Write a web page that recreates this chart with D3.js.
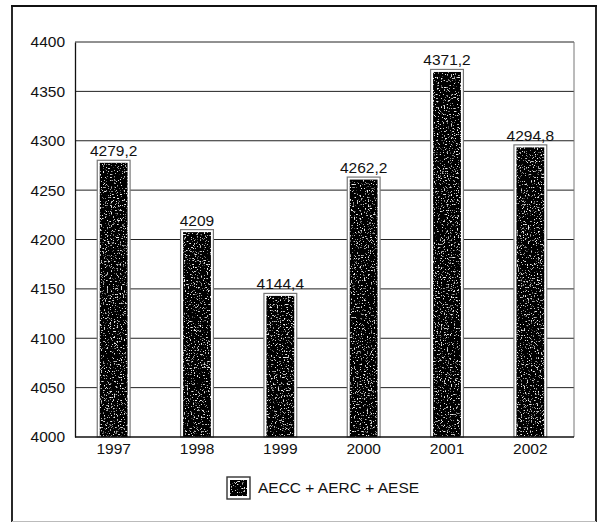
<!DOCTYPE html>
<html>
<head>
<meta charset="utf-8">
<script src="https://cdn.jsdelivr.net/npm/d3@7"></script>
<style>
  html, body { margin: 0; padding: 0; background: #fff; }
  svg { display: block; font-family: "Liberation Sans", Arial, sans-serif; }
</style>
</head>
<body>
<svg id="chart" width="600" height="523"></svg>
<script>
// Yearly totals
const years = ["1997", "1998", "1999", "2000", "2001", "2002"];
const totals = [4279.2, 4209, 4144.4, 4262.2, 4371.2, 4294.8];
const valueLabels = ["4279,2", "4209", "4144,4", "4262,2", "4371,2", "4294,8"];
const yTicks = [4000, 4050, 4100, 4150, 4200, 4250, 4300, 4350, 4400];
const seriesName = "AECC + AERC + AESE";

const FS = 15.5;
const svg = d3.select("#chart");

// grainy dark fill for bars: black base with sparse light speckles
const defs = svg.append("defs");
const grain = defs.append("filter").attr("id", "grain")
  .attr("x", 0).attr("y", 0).attr("width", 1).attr("height", 1);
grain.append("feTurbulence").attr("type", "fractalNoise")
  .attr("baseFrequency", 0.7).attr("numOctaves", 3).attr("seed", 11).attr("result", "noise");
grain.append("feColorMatrix").attr("in", "noise").attr("type", "matrix")
  .attr("values", "0 0 0 0 0.85  0 0 0 0 0.85  0 0 0 0 0.85  7 0 0 0 -4.3").attr("result", "speck");
grain.append("feComposite").attr("in", "speck").attr("in2", "SourceGraphic").attr("operator", "in").attr("result", "specks");
grain.append("feMerge").call(m => {
  m.append("feMergeNode").attr("in", "SourceGraphic");
  m.append("feMergeNode").attr("in", "specks");
});

// outer frame
const frame = svg.append("g");
frame.append("line").attr("x1", 12).attr("x2", 12).attr("y1", 5.5).attr("y2", 522).attr("stroke", "#111").attr("stroke-width", 1.8);
frame.append("line").attr("x1", 11).attr("x2", 597).attr("y1", 6).attr("y2", 6).attr("stroke", "#111").attr("stroke-width", 1.8);
frame.append("line").attr("x1", 596).attr("x2", 596).attr("y1", 5.5).attr("y2", 522).attr("stroke", "#111").attr("stroke-width", 1.8);
frame.append("line").attr("x1", 12).attr("x2", 596).attr("y1", 521.5).attr("y2", 521.5).attr("stroke", "#bbb").attr("stroke-width", 1);

const plot = { left: 75, right: 574, top: 42, bottom: 437 };

const y = d3.scaleLinear().domain([4000, 4400]).range([plot.bottom, plot.top]);
const x = d3.scaleBand().domain(years).range([72, 572]).paddingInner(0.63).paddingOuter(0.315);

// gridlines
svg.append("g").selectAll("line").data(yTicks.slice(1)).join("line")
  .attr("x1", plot.left).attr("x2", plot.right)
  .attr("y1", d => y(d)).attr("y2", d => y(d))
  .attr("stroke", "#222").attr("stroke-width", 1);

// plot border: right side lighter
svg.append("line").attr("x1", plot.right).attr("x2", plot.right)
  .attr("y1", plot.top).attr("y2", plot.bottom).attr("stroke", "#777").attr("stroke-width", 1);

// y axis
const yAxis = svg.append("g").attr("transform", `translate(${plot.left},0)`)
  .call(d3.axisLeft(y).tickValues(yTicks).tickSize(0).tickPadding(10).tickFormat(d3.format("d")));
yAxis.select(".domain").attr("stroke", "#111").attr("stroke-width", 1.3);
yAxis.selectAll("text").attr("font-size", FS).attr("fill", "#111");

// bars
const bars = svg.append("g");
bars.selectAll("rect.outline").data(totals).join("rect").attr("class", "outline")
  .attr("x", (d, i) => x(years[i]) - 1)
  .attr("y", d => y(d) - 1)
  .attr("width", x.bandwidth() + 2)
  .attr("height", d => plot.bottom - y(d) + 1)
  .attr("fill", "#fff").attr("stroke", "#777").attr("stroke-width", 1.2);
bars.selectAll("rect.bar").data(totals).join("rect").attr("class", "bar")
  .attr("x", (d, i) => x(years[i]) + 1.5)
  .attr("y", d => y(d) + 1.5)
  .attr("width", x.bandwidth() - 3)
  .attr("height", d => plot.bottom - y(d) - 1.5)
  .attr("fill", "#050505").attr("filter", "url(#grain)");

// x axis
const xAxis = svg.append("g").attr("transform", `translate(0,${plot.bottom})`)
  .call(d3.axisBottom(x).tickSize(0).tickPadding(6));
xAxis.select(".domain").remove();
xAxis.selectAll("text").attr("font-size", FS).attr("fill", "#111");
svg.append("line").attr("x1", plot.left).attr("x2", plot.right)
  .attr("y1", plot.bottom).attr("y2", plot.bottom).attr("stroke", "#111").attr("stroke-width", 1.3);

// value labels
svg.append("g").selectAll("text").data(totals).join("text")
  .attr("x", (d, i) => x(years[i]) + x.bandwidth() / 2)
  .attr("y", d => y(d) - 5)
  .attr("text-anchor", "middle").attr("font-size", FS).attr("fill", "#111")
  .text((d, i) => valueLabels[i]);

// legend
const lg = svg.append("g").attr("transform", "translate(227,477)");
lg.append("rect").attr("x", 0).attr("y", 0).attr("width", 23).attr("height", 22)
  .attr("fill", "#fff").attr("stroke", "#333").attr("stroke-width", 1.4);
lg.append("rect").attr("x", 3).attr("y", 3).attr("width", 17).attr("height", 16)
  .attr("fill", "#050505").attr("filter", "url(#grain)");
lg.append("text").attr("x", 31).attr("y", 15.5).attr("font-size", FS).attr("fill", "#111").text(seriesName);
</script>
</body>
</html>
